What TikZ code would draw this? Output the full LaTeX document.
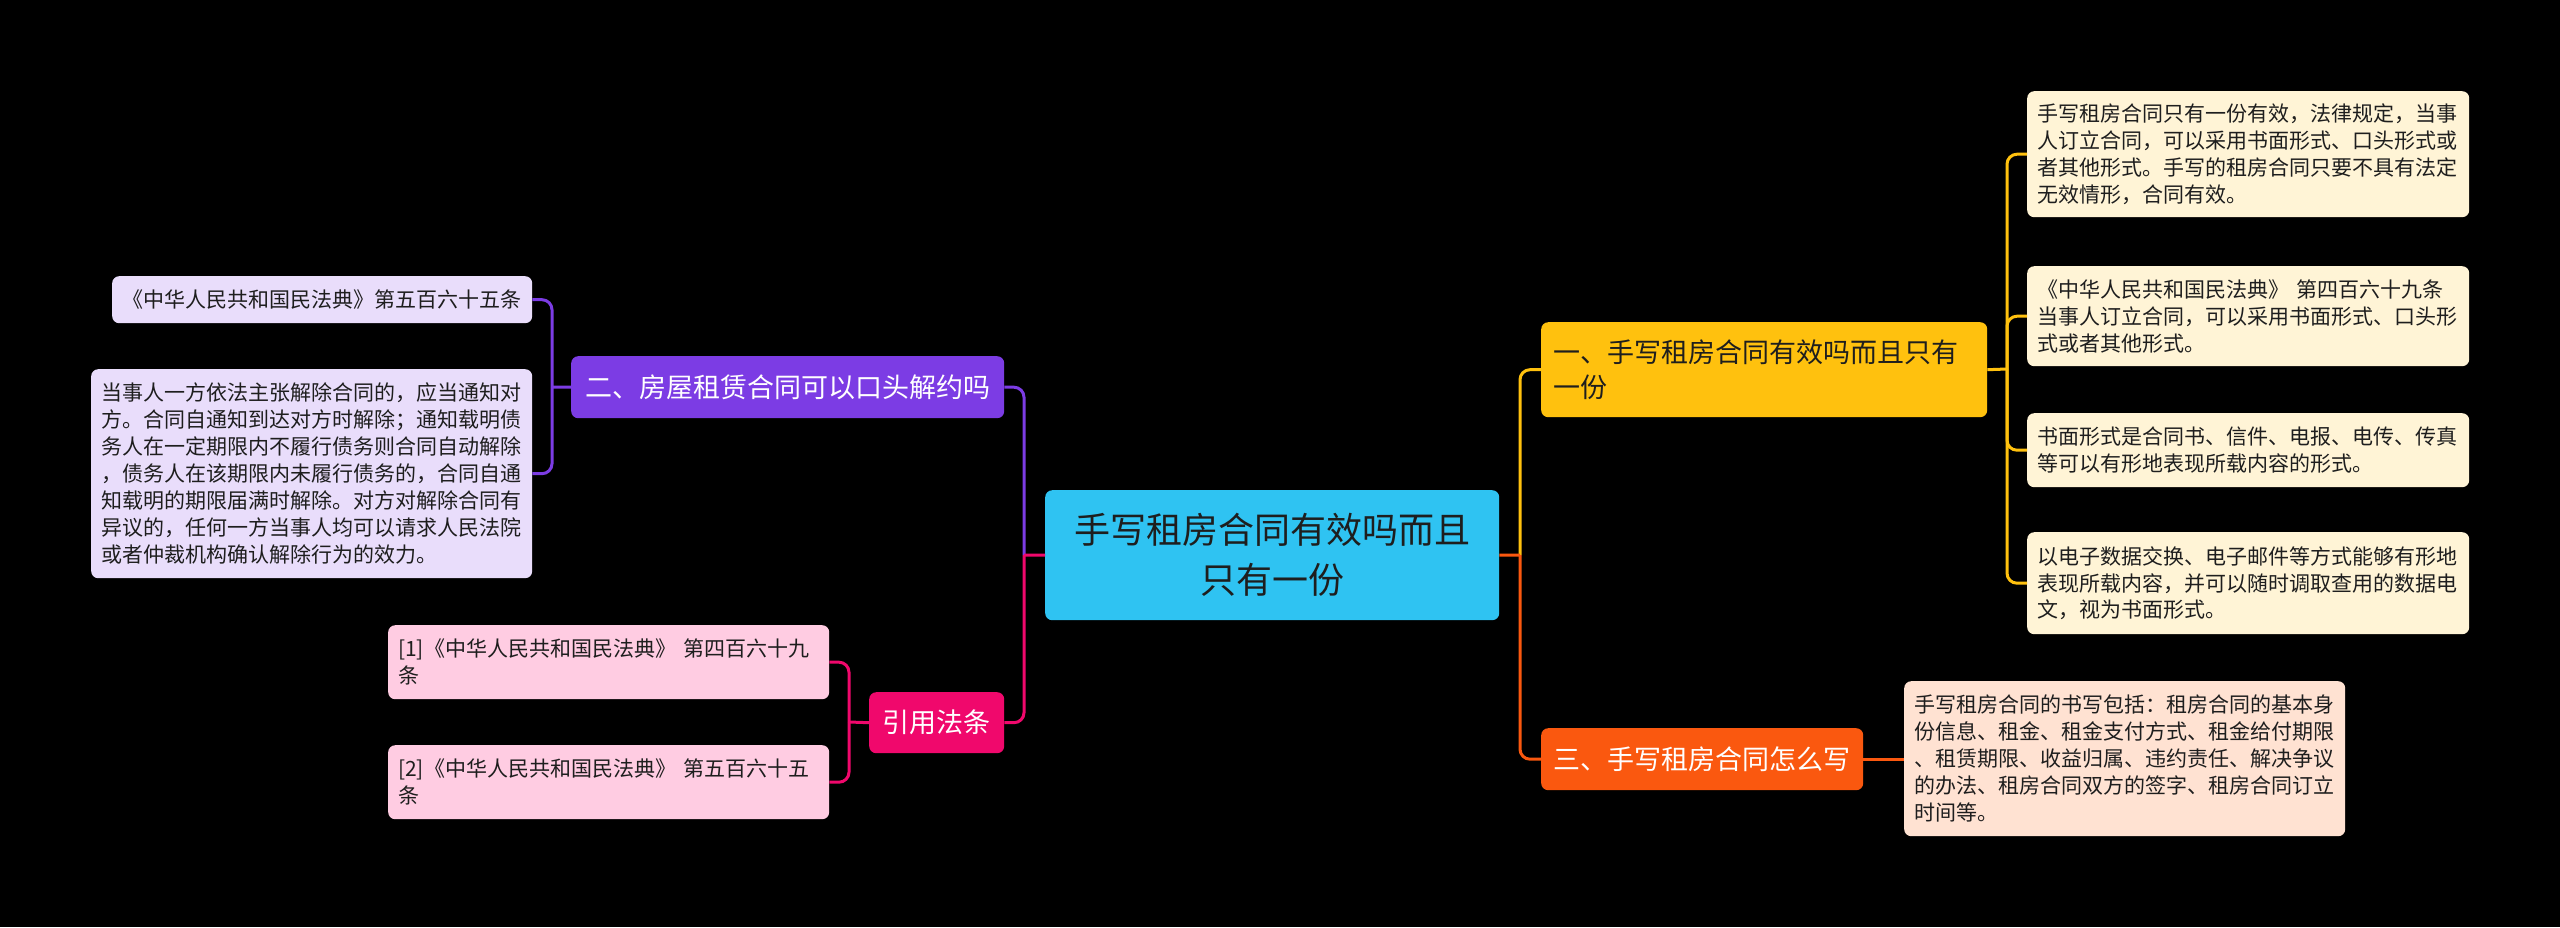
\documentclass[tikz,border=0pt]{standalone}
\usepackage{fontspec}
\newfontfamily\cjk{Noto Sans CJK SC}
\definecolor{bgc}{RGB}{0,0,0}
\definecolor{cyanc}{RGB}{47,195,242}
\definecolor{yelc}{RGB}{255,193,14}
\definecolor{orac}{RGB}{250,88,15}
\definecolor{purc}{RGB}{124,60,228}
\definecolor{pinc}{RGB}{240,8,108}
\definecolor{creamc}{RGB}{255,244,214}
\definecolor{peachc}{RGB}{255,226,210}
\definecolor{lavc}{RGB}{233,221,251}
\definecolor{pinkl}{RGB}{255,204,226}
\definecolor{darkt}{RGB}{30,30,30}
\tikzset{
  base/.style={rounded corners=7pt, anchor=north west, inner ysep=0pt, align=left},
  rootbox/.style={base, fill=cyanc, text=darkt, align=center, font=\cjk\fontsize{36}{50}\selectfont},
  mainbox/.style={base, inner xsep=12pt, font=\cjk\fontsize{27}{35}\selectfont},
  leafbox/.style={base, inner xsep=10pt, text=darkt, font=\cjk\fontsize{21}{27}\selectfont},
  conn/.style={line width=3pt},
  curvy/.style={line width=3pt, rounded corners=10pt},
}
\begin{document}
\begin{tikzpicture}[x=1pt,y=-1pt]
\useasboundingbox (0,0) rectangle (2560,927);
\fill[bgc] (0,0) rectangle (2560,927);

% root
\node[rootbox, minimum width=454pt, minimum height=130pt] (root) at (1045,490)
  {手写租房合同有效吗而且\\只有一份};

% main branches
\node[mainbox, fill=yelc, text=darkt, minimum width=446pt, minimum height=95pt, text width=422pt] (b1) at (1541,322)
  {一、手写租房合同有效吗而且只有\\一份};
\node[mainbox, fill=orac, text=white, minimum width=322pt, minimum height=62pt] (b3) at (1541,728)
  {三、手写租房合同怎么写};
\node[mainbox, fill=purc, text=white, minimum width=433pt, minimum height=62pt] (b2) at (571,356)
  {二、房屋租赁合同可以口头解约吗};
\node[mainbox, fill=pinc, text=white, minimum width=135pt, minimum height=61pt] (b4) at (869,692)
  {引用法条};

% right leaves
\node[leafbox, fill=creamc, minimum width=442pt, minimum height=126pt, text width=422pt] (r1) at (2027,91)
  {手写租房合同只有一份有效，法律规定，当事\\人订立合同，可以采用书面形式、口头形式或\\者其他形式。手写的租房合同只要不具有法定\\无效情形，合同有效。};
\node[leafbox, fill=creamc, minimum width=442pt, minimum height=100pt, text width=422pt] (r2) at (2027,266)
  {《中华人民共和国民法典》 第四百六十九条\\当事人订立合同，可以采用书面形式、口头形\\式或者其他形式。};
\node[leafbox, fill=creamc, minimum width=442pt, minimum height=74pt, text width=422pt] (r3) at (2027,413)
  {书面形式是合同书、信件、电报、电传、传真\\等可以有形地表现所载内容的形式。};
\node[leafbox, fill=creamc, minimum width=442pt, minimum height=102pt, text width=422pt] (r4) at (2027,532)
  {以电子数据交换、电子邮件等方式能够有形地\\表现所载内容，并可以随时调取查用的数据电\\文，视为书面形式。};
\node[leafbox, fill=peachc, minimum width=441pt, minimum height=155pt, text width=421pt] (o1) at (1904,681)
  {手写租房合同的书写包括：租房合同的基本身\\份信息、租金、租金支付方式、租金给付期限\\、租赁期限、收益归属、违约责任、解决争议\\的办法、租房合同双方的签字、租房合同订立\\时间等。};

% left leaves
\node[leafbox, fill=lavc, minimum width=420pt, minimum height=47pt, text width=400pt] (l1) at (112,276)
  {《中华人民共和国民法典》第五百六十五条};
\node[leafbox, fill=lavc, minimum width=441pt, minimum height=209pt, text width=421pt] (l2) at (91,369)
  {当事人一方依法主张解除合同的，应当通知对\\方。合同自通知到达对方时解除；通知载明债\\务人在一定期限内不履行债务则合同自动解除\\，债务人在该期限内未履行债务的，合同自通\\知载明的期限届满时解除。对方对解除合同有\\异议的，任何一方当事人均可以请求人民法院\\或者仲裁机构确认解除行为的效力。};
\node[leafbox, fill=pinkl, minimum width=441pt, minimum height=74pt, text width=421pt] (p1) at (388,625)
  {[1]《中华人民共和国民法典》 第四百六十九\\条};
\node[leafbox, fill=pinkl, minimum width=441pt, minimum height=74pt, text width=421pt] (p2) at (388,745)
  {[2]《中华人民共和国民法典》 第五百六十五\\条};

% spine coordinates
\coordinate (sr) at (1520,555);
\coordinate (sl) at (1024,555);
\coordinate (s1) at (2007,369);
\coordinate (s2) at (552,387);
\coordinate (s4) at (849,722);

% root to main branches
\draw[curvy, yelc] (sr) |- (b1.west);
\draw[curvy, orac] (sr) |- (b3.west);
\draw[conn, orac] (root.east) -- (sr);
\draw[curvy, purc] (sl) |- (b2.east);
\draw[curvy, pinc] (sl) |- (b4.east);
\draw[conn, pinc] (root.west) -- (sl);

% branch 1 to right leaves
\draw[conn, yelc] (b1.east) -- (s1);
\draw[curvy, yelc] (s1) |- (r1.west);
\draw[curvy, yelc] (s1) |- (r2.west);
\draw[curvy, yelc] (s1) |- (r3.west);
\draw[curvy, yelc] (s1) |- (r4.west);

% branch 3 to leaf
\draw[conn, orac] (b3.east) -- (o1.west |- b3.east);

% branch 2 to left leaves
\draw[conn, purc] (b2.west) -- (s2);
\draw[curvy, purc] (s2) |- (l1.east);
\draw[curvy, purc] (s2) |- (l2.east);

% branch 4 to pink leaves
\draw[conn, pinc] (b4.west) -- (s4);
\draw[curvy, pinc] (s4) |- (p1.east);
\draw[curvy, pinc] (s4) |- (p2.east);
\end{tikzpicture}
\end{document}
